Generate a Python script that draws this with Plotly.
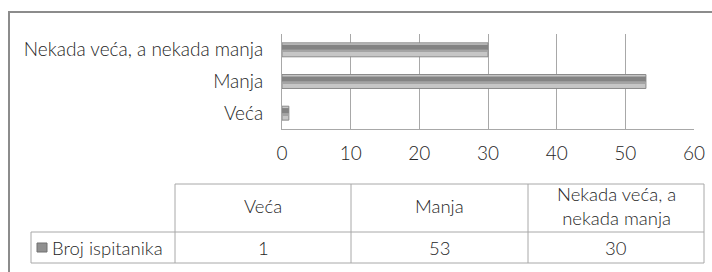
import plotly.graph_objects as go

categories = ["Veća", "Manja", "Nekada veća, a nekada manja"]
header_labels = ["Veća", "Manja", "Nekada veća, a<br>nekada manja"]
values = [1, 53, 30]
series_name = "Broj ispitanika"
x_ticks = [0, 10, 20, 30, 40, 50, 60]

W, H = 712, 272
FONT = "Lato"
TXT = "#262626"
FS = 19


def px(x):
    return x / W


def py(y):
    return 1 - y / H


fig = go.Figure()
# base bar (light lower half)
fig.add_trace(go.Bar(y=categories, x=values, orientation="h", width=0.44, offset=-0.22,
                     marker=dict(color="#c6c6c6", line=dict(color="#8a8a8a", width=1)),
                     showlegend=False, hoverinfo="x+y"))
# transition band
fig.add_trace(go.Bar(y=categories, x=values, orientation="h", width=0.06, offset=-0.06,
                     marker=dict(color="#a4a4a4", line=dict(width=0)),
                     showlegend=False, hoverinfo="skip"))
# dark upper band
fig.add_trace(go.Bar(y=categories, x=values, orientation="h", width=0.16, offset=0.0,
                     marker=dict(color="#838383", line=dict(width=0)),
                     showlegend=False, hoverinfo="skip"))

shapes = []
LC = "#a8a8a8"
# outer frame
shapes.append(dict(type="rect", xref="paper", yref="paper", x0=px(9), x1=px(730), y0=py(12), y1=py(290),
                   line=dict(color="#8c8c8c", width=2)))
# table lines
def hline(y, x0, x1):
    shapes.append(dict(type="line", xref="paper", yref="paper", x0=px(x0), x1=px(x1), y0=py(y), y1=py(y),
                       line=dict(color=LC, width=1)))


def vline(x, y0, y1):
    shapes.append(dict(type="line", xref="paper", yref="paper", x0=px(x), x1=px(x), y0=py(y0), y1=py(y1),
                       line=dict(color=LC, width=1)))


col_edges = [175, 351, 528, 704]
hline(184, 175, 704)
hline(232, 31, 704)
hline(263, 31, 704)
vline(31, 232, 263)
for xe in col_edges:
    vline(xe, 184, 263)
# legend key
shapes.append(dict(type="rect", xref="paper", yref="paper", x0=px(37), x1=px(47), y0=py(243), y1=py(252),
                   fillcolor="#909090", line=dict(color="#707070", width=1)))

annotations = []
for i, (h, v) in enumerate(zip(header_labels, values)):
    cx = (col_edges[i] + col_edges[i + 1]) / 2
    annotations.append(dict(xref="paper", yref="paper", x=px(cx), y=py(206), text=h, showarrow=False,
                            xanchor="center", yanchor="middle", font=dict(family=FONT, size=FS - 0.5, color=TXT, weight=300)))
    annotations.append(dict(xref="paper", yref="paper", x=px(cx), y=py(247.5), text=str(v), showarrow=False,
                            xanchor="center", yanchor="middle", font=dict(family=FONT, size=FS - 0.5, color=TXT, weight=300)))
annotations.append(dict(xref="paper", yref="paper", x=px(50), y=py(247.5), text=series_name, showarrow=False,
                        xanchor="left", yanchor="middle", font=dict(family=FONT, size=FS - 0.5, color=TXT, weight=300)))

fig.update_layout(
    width=W, height=H,
    margin=dict(l=0, r=0, t=0, b=0, autoexpand=False),
    paper_bgcolor="white", plot_bgcolor="white",
    barmode="overlay",
    showlegend=False,
    shapes=shapes,
    annotations=annotations,
    xaxis=dict(domain=[px(282), px(694)], range=[0, 60], tickvals=x_ticks, automargin=False,
               showgrid=True, gridcolor="#a8a8a8", gridwidth=1,
               showline=True, linecolor="#a8a8a8", linewidth=1, zeroline=False,
               ticks="", ticklabelstandoff=7,
               tickfont=dict(family=FONT, size=FS, color=TXT, weight=300)),
    yaxis=dict(domain=[py(129), py(34)], categoryorder="array", categoryarray=categories, automargin=False,
               showgrid=False, showline=True, linecolor="#a8a8a8", linewidth=1, zeroline=False,
               ticks="", ticklabelstandoff=14,
               tickfont=dict(family=FONT, size=FS, color=TXT, weight=300)),
)

fig.write_html("out.html", config={"displayModeBar": False},
               post_script="document.body.style.margin='0';document.body.style.overflow='hidden';")
